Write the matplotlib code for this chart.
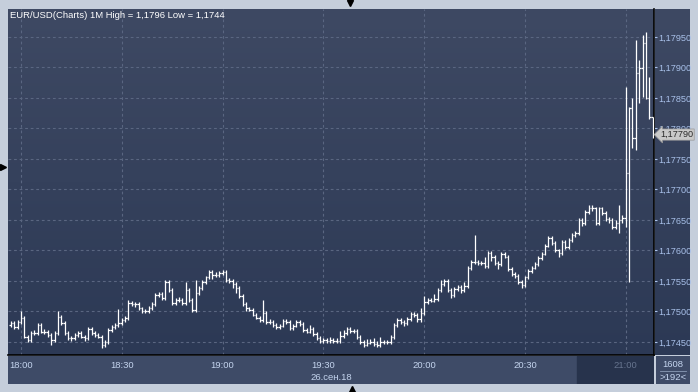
import numpy as np
import matplotlib
matplotlib.use("Agg")
import matplotlib.pyplot as plt
from matplotlib.lines import Line2D
from matplotlib.patches import Rectangle

# EUR/USD 1-minute bars, 17:57 .. 21:08, values in 1e-5 above 1.17000
base = 1.17
start_min = -3  # first bar at 17:57 (minutes from 18:00)

close = [481, 475, 483, 489, 459, 453, 465, 465, 478, 467, 467, 461, 453, 465, 491, 481,
         465, 456, 456, 461, 465, 459, 456, 471, 465, 461, 459, 445, 450, 470, 475, 478,
         481, 486, 489, 514, 512, 512, 505, 501, 501, 506, 512, 527, 529, 522, 548, 535,
         514, 519, 519, 514, 535, 519, 502, 530, 538, 548, 556, 565, 560, 560, 563, 565,
         552, 550, 545, 538, 525, 512, 505, 503, 495, 490, 486, 497, 483, 483, 478, 475,
         477, 485, 483, 473, 477, 483, 480, 470, 467, 472, 463, 457, 452, 453, 452, 453,
         452, 452, 460, 465, 471, 468, 468, 458, 450, 445, 448, 450, 447, 445, 450, 450,
         450, 458, 478, 486, 483, 481, 488, 496, 494, 488, 498, 516, 519, 518, 520, 535,
         545, 550, 535, 527, 537, 540, 535, 542, 571, 581, 581, 580, 579, 575, 596, 590,
         580, 578, 594, 590, 570, 561, 558, 548, 543, 556, 566, 572, 578, 588, 595, 608,
         620, 612, 600, 596, 614, 606, 617, 625, 629, 650, 645, 663, 669, 669, 645, 669,
         661, 652, 650, 639, 645, 650, 653, 727, 833, 784, 891, 899, 940, 850, 819, 790]

high = [484, 484, 486, 501, 492, 462, 468, 470, 481, 481, 471, 470, 464, 468, 501, 494,
        484, 468, 460, 464, 468, 468, 462, 474, 474, 468, 464, 462, 453, 473, 478, 481,
        504, 489, 492, 519, 517, 515, 515, 508, 504, 509, 515, 530, 532, 532, 552, 551,
        538, 522, 523, 522, 548, 538, 522, 552, 541, 551, 559, 568, 568, 564, 566, 568,
        568, 555, 553, 548, 541, 528, 515, 508, 506, 498, 493, 519, 500, 487, 486, 481,
        480, 488, 488, 486, 480, 486, 486, 483, 473, 478, 475, 466, 460, 456, 456, 458,
        456, 456, 468, 470, 474, 474, 472, 471, 461, 453, 455, 455, 456, 452, 458, 454,
        454, 462, 481, 489, 489, 486, 491, 499, 499, 497, 505, 525, 522, 522, 528, 538,
        552, 553, 553, 538, 540, 543, 543, 548, 574, 584, 625, 584, 583, 590, 599, 599,
        593, 583, 597, 597, 593, 573, 564, 561, 551, 559, 569, 575, 581, 591, 598, 611,
        623, 623, 615, 603, 617, 617, 620, 628, 632, 653, 653, 666, 674, 674, 672, 672,
        672, 664, 655, 653, 650, 674, 658, 868, 835, 850, 945, 912, 953, 958, 884, 819]

low = [475, 472, 472, 480, 456, 450, 450, 462, 462, 464, 463, 458, 445, 450, 462, 478,
       462, 453, 452, 453, 458, 456, 452, 453, 462, 458, 456, 440, 442, 447, 467, 472,
       475, 478, 483, 486, 509, 508, 502, 498, 497, 498, 503, 509, 524, 519, 519, 532,
       511, 511, 515, 511, 511, 516, 499, 499, 527, 535, 545, 553, 553, 556, 557, 560,
       549, 547, 538, 530, 522, 509, 500, 500, 492, 487, 483, 483, 480, 480, 475, 472,
       472, 474, 480, 470, 470, 474, 477, 467, 464, 464, 460, 454, 449, 449, 449, 449,
       449, 448, 449, 457, 462, 465, 464, 455, 447, 441, 443, 446, 443, 441, 442, 446,
       446, 447, 455, 475, 480, 476, 478, 485, 491, 482, 482, 495, 513, 515, 515, 517,
       532, 542, 532, 522, 524, 534, 530, 532, 539, 568, 578, 577, 576, 572, 572, 583,
       577, 570, 575, 587, 567, 558, 555, 545, 538, 540, 553, 563, 569, 575, 585, 592,
       605, 609, 597, 590, 593, 603, 603, 614, 622, 626, 640, 642, 660, 664, 642, 642,
       658, 649, 645, 636, 636, 629, 645, 639, 548, 768, 765, 842, 851, 848, 816, 784]

price_ticks = [1.1745, 1.1750, 1.1755, 1.1760, 1.1765, 1.1770, 1.1775, 1.1780, 1.1785, 1.1790, 1.1795]
time_ticks = [0, 30, 60, 90, 120, 150, 180]
time_labels = ["18:00", "18:30", "19:00", "19:30", "20:00", "20:30", "21:00"]
title = "EUR/USD(Charts) 1M High = 1,1796 Low = 1,1744"

W, H = 698, 392


def fx(px):
    return px / W


def fy(py):
    return 1 - py / H


c = base + np.array(close) / 1e5
h = base + np.array(high) / 1e5
l = base + np.array(low) / 1e5
o = np.concatenate([[base + 478 / 1e5], c[:-1]])
t = start_min + np.arange(len(c))

xlim = (-3.86, 188.4)
ylim = (1.174287, 1.179958)
txt = "#c4d4ee"
font = "Liberation Sans"
fs = 6.8

fig = plt.figure(figsize=(W / 100, H / 100), dpi=100, facecolor="#c5cedb")

# main chart
ax = fig.add_axes([fx(8), fy(355), 646 / W, 346 / H])
grad = np.linspace(0, 1, 256).reshape(-1, 1)
top_c = np.array([62, 73, 99]) / 255
bot_c = np.array([44, 57, 85]) / 255
img = top_c + (bot_c - top_c) * grad[:, :, None]
ax.imshow(img, extent=[xlim[0], xlim[1], ylim[0], ylim[1]], aspect="auto",
          origin="upper", zorder=0)
for p in price_ticks:
    ax.axhline(p, color="#5a6681", lw=0.8, ls=(0, (2.5, 2.5)), zorder=1)
for m in time_ticks:
    ax.axvline(m, color="#5a6681", lw=0.8, ls=(0, (2.5, 2.5)), zorder=1)

ax.vlines(t, l, h, color="white", lw=0.9, zorder=3)
ax.hlines(o, t - 0.42, t, color="white", lw=0.9, zorder=3)
ax.hlines(c, t, t + 0.42, color="white", lw=0.9, zorder=3)

ax.set_xlim(*xlim)
ax.set_ylim(*ylim)
ax.set_xticks([])
ax.yaxis.tick_right()
ax.set_yticks(price_ticks)
ax.set_yticklabels([f"{p:.5f}".replace(".", ",") for p in price_ticks],
                   fontsize=6.6, color="#a9c1ea", family=font)
ax.tick_params(axis="y", length=2.2, color="#a9c1ea", pad=0.8)
for s in ax.spines.values():
    s.set_visible(False)
ax.spines["right"].set_visible(True)
ax.spines["right"].set_color("black")
ax.spines["bottom"].set_visible(True)
ax.spines["bottom"].set_color("black")
ax.spines["right"].set_linewidth(1.2)
ax.spines["bottom"].set_linewidth(1.2)
ax.text(0.003, 0.993, title, transform=ax.transAxes, fontsize=fs, color="white",
        family=font, va="top", ha="left", zorder=5)

# right scale panel
ar = fig.add_axes([fx(655), fy(355), 35 / W, 346 / H], zorder=-1)
ar.imshow(img, extent=[0, 1, 0, 1], aspect="auto", origin="upper")
ar.set_axis_off()

# last price marker
last = c[-1]
ax.annotate(f"{last:.5f}".replace(".", ","), xy=(1.0, last),
            xycoords=("axes fraction", "data"), xytext=(6, 0),
            textcoords="offset pixels", fontsize=6.6, color="#2a2a2a", family=font,
            va="center", ha="left", zorder=6, annotation_clip=False,
            bbox=dict(boxstyle="larrow,pad=0.12", fc="#c9c9c9", ec="#9a9a9a", lw=0.5))

# bottom time panel
ab = fig.add_axes([fx(8), fy(384), 646 / W, 28 / H])
ab.set_facecolor("#3e4b67")
ab.set_xlim(*xlim)
ab.set_ylim(0, 1)
ab.add_patch(Rectangle((165.5, 0), xlim[1] - 165.5, 1, color="#27334c", zorder=1))
for m, lab in zip(time_ticks, time_labels):
    col = "#66748e" if m == 180 else txt
    ab.text(m, 0.66, lab, fontsize=fs, color=col, family=font, ha="center",
            va="center", zorder=2)
ab.text(86.3, 0.24, "26.сен.18", fontsize=fs, color=txt, family=font, ha="left",
        va="center", zorder=2)
ab.set_xticks([])
ab.set_yticks([])
for s in ab.spines.values():
    s.set_visible(False)

# bottom right box
abr = fig.add_axes([fx(656), fy(384), 34 / W, 28 / H])
abr.set_facecolor("#3e4b67")
abr.set_xticks([])
abr.set_yticks([])
for s in abr.spines.values():
    s.set_visible(False)
abr.text(0.5, 0.7, "1608", fontsize=fs, color=txt, family=font, ha="center", va="center",
         transform=abr.transAxes)
abr.text(0.5, 0.25, ">192<", fontsize=fs, color=txt, family=font, ha="center", va="center",
         transform=abr.transAxes)
abr.plot([0.12, 0.88], [0.47, 0.47], color="#8a9ab5", lw=0.6, transform=abr.transAxes)

# small navigation arrows
for x0, y0, mk in [(350, 3, "v"), (3, 167, ">"), (352, 389, "^")]:
    fig.add_artist(Line2D([fx(x0)], [fy(y0)], marker=mk, color="black", ms=4,
                          transform=fig.transFigure))

fig.savefig("out.png", dpi=100, facecolor=fig.get_facecolor())
